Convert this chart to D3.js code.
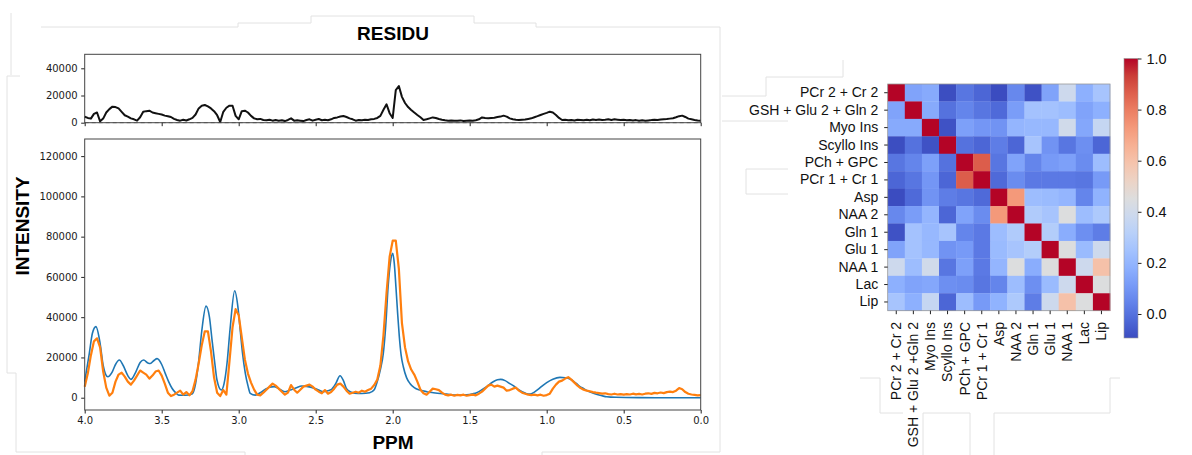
<!DOCTYPE html>
<html>
<head>
<meta charset="utf-8">
<script src="https://cdn.jsdelivr.net/npm/d3@7"></script>
<style>
  body { margin: 0; background: #fff; }
  svg { display: block; }
</style>
</head>
<body>
<script>
// ---- spectrum data (intensity in thousands) ----
const ppmTicks = [4.0, 3.5, 3.0, 2.5, 2.0, 1.5, 1.0, 0.5, 0.0];
const intensityTicks = [0, 20000, 40000, 60000, 80000, 100000, 120000];
const residTicks = [0, 20000, 40000];

// measured spectrum and residual are sampled from 4.00 ppm down to 0.00 ppm every 0.02 ppm
const gridStart = 4.0;
const gridStep = 0.02;

const measured = [
  5.5, 12, 21, 28, 29.5, 25, 13, 5, 1.0, 2.5,
  8, 11.5, 12.5, 10.5, 8, 6.5, 8.5, 11, 13.5, 12.5,
  11.5, 9.5, 11, 13, 13.5, 11, 7, 2.5, 0.8, 1.5,
  2.5, 3.5, 1.5, 2.8, 1.2, 3.2, 9, 17, 26, 33,
  33, 23, 10, 2.5, 0.8, 3.8, 1.5, 18, 35, 44,
  41, 30, 19, 12, 7.5, 4, 1.5, 1.2, 2.5, 4,
  5.5, 7, 6, 4.5, 3, 1.5, 2.5, 6.3, 4, 2.5,
  4, 5.5, 6, 6.5, 5.5, 4, 3, 2.2, 3.8, 2,
  2.8, 4.5, 6.5, 7, 5.5, 3.5, 2, 2.5, 3, 2.5,
  3.5, 3, 3.8, 4.5, 6.3, 9, 16, 31, 52, 70,
  78, 78, 64, 37, 25, 18, 14, 11.5, 8, 4,
  2.2, 1.5, 3, 4.5, 4.2, 3.8, 2.5, 1.5, 1.2, 1.5,
  1.0, 1.4, 1.2, 1.5, 1.0, 1.3, 1.5, 1.2, 2, 3,
  4.5, 6, 6.5, 5.5, 6, 5.5, 5, 3.5, 3.8, 4.5,
  5, 3.5, 2.5, 2, 1.5, 1.3, 1.5, 1.2, 1.5, 1.0,
  1.3, 2, 4.5, 6.5, 8, 8.5, 9.5, 10.2, 9, 7.5,
  6, 4.8, 4, 3.5, 3.2, 2.8, 2.5, 2.3, 2, 2.2,
  1.8, 1.6, 2, 1.6, 1.8, 1.5, 1.8, 1.6, 2, 1.7,
  1.9, 1.6, 2, 2.2, 1.9, 2.4, 2.2, 2.6, 2.3, 2.8,
  3, 2.8, 3.5, 4.8, 4.2, 2.8, 2, 1.6, 1.4, 1.2,
  1.3
];

const residual = [
  4.4, 3.5, 3.0, 6.5, 7.5, 1.0, 3, 7.5, 10, 11.8,
  11.5, 10.5, 8, 5.5, 4.5, 3.2, 2.5, 1.5, 4, 8,
  8.5, 8.8, 7.5, 7, 6.5, 6, 5.2, 4.8, 4.2, 2.8,
  2, 1.5, 2.2, 1.6, 2.5, 3.5, 6, 10.5, 12.5, 13,
  12, 10.5, 8.5, 5.5, 0.5, 8, 11, 12.5, 12.5, 5,
  2.5, 8.5, 8.8, 7.5, 5, 3.2, 2.5, 2.8, 2, 1.8,
  2.2, 1.5, 2, 1.5, 1.8, 1.2, 2, 3.2, 1.5, 1.8,
  1.5, 1.2, 2, 2.5, 1.5, 2.2, 2.7, 1.8, 2.2, 1.8,
  2.5, 3.5, 3.9, 4.5, 4.9, 4.2, 3.2, 2.5, 1.5, 2,
  1.8, 2.2, 2, 2.5, 2.8, 3.5, 5, 9.5, 13.5, 7,
  3.5, 24, 27, 19, 14.5, 11.5, 9.4, 7.5, 5.7, 4,
  2, 2.5, 3.2, 3.9, 3.5, 2.7, 2.2, 1.8, 1.5, 1.6,
  1.4, 1.5, 1.7, 1.3, 1.5, 1.6, 1.4, 1.8, 2.5, 3.9,
  3.5, 3.2, 3.4, 3.6, 4.2, 4.5, 5.2, 4.5, 3.2, 2.5,
  2.2, 2, 2.2, 2.4, 2.8, 3.2, 4, 4.8, 5.7, 6.5,
  7.2, 8.1, 7.5, 5.7, 3.5, 2, 2.2, 1.8, 2, 1.6,
  2.2, 2, 1.8, 2.2, 1.8, 2.3, 2, 2.4, 2, 2.2,
  2.5, 2, 2.5, 2.2, 1.9, 2.1, 1.8, 2, 1.7, 1.9,
  1.5, 1.8, 1.5, 1.7, 1.9, 2.2, 2, 2.4, 2.6, 2.7,
  3, 3.3, 4, 4.8, 5.2, 4.2, 3, 2.5, 2, 1.6,
  1.5
];

// fitted spectrum, [ppm, intensity]
const fitPoints = [
  [4.00, 8], [3.97, 22], [3.95, 32], [3.927, 35.3], [3.90, 27], [3.88, 16], [3.85, 10.4],
  [3.82, 13], [3.80, 16.5], [3.775, 18.7], [3.75, 16], [3.72, 11], [3.70, 9.1], [3.67, 12.5],
  [3.64, 17.5], [3.617, 18.7], [3.59, 17.3], [3.574, 17], [3.55, 18.5], [3.53, 19.4],
  [3.50, 16.5], [3.477, 12.1], [3.455, 8], [3.433, 4.7], [3.41, 2.5], [3.39, 1.3], [3.35, 1.2],
  [3.30, 2], [3.28, 7], [3.26, 18], [3.24, 33], [3.212, 45.5], [3.19, 40], [3.173, 28.6],
  [3.155, 17], [3.141, 8.8], [3.113, 3.8], [3.095, 7], [3.076, 17], [3.055, 35], [3.026, 53.1],
  [3.005, 45], [2.99, 33.6], [2.975, 22], [2.957, 12.1], [2.94, 6], [2.925, 2.2], [2.892, 1.3],
  [2.86, 2.5], [2.83, 4], [2.80, 5.2], [2.77, 5.5], [2.74, 4.5], [2.70, 3], [2.667, 3.8],
  [2.63, 4.8], [2.59, 5.8], [2.55, 5.5], [2.50, 4.5], [2.45, 3], [2.42, 3.5], [2.40, 4],
  [2.37, 7], [2.342, 10.9], [2.32, 8.5], [2.30, 4.5], [2.277, 3], [2.25, 2.3], [2.20, 2.1],
  [2.15, 2.5], [2.12, 4], [2.104, 7.1], [2.08, 14], [2.061, 22], [2.045, 36], [2.03, 55],
  [2.015, 67], [2.00, 71.7], [1.99, 67], [1.979, 55], [1.968, 42], [1.957, 30.3], [1.945, 21],
  [1.931, 15.4], [1.91, 10], [1.888, 7.1], [1.86, 5], [1.823, 3.8], [1.78, 3], [1.736, 2.5],
  [1.65, 1.8], [1.584, 1.3], [1.52, 1.5], [1.48, 2], [1.455, 2.5], [1.42, 4], [1.39, 5.5],
  [1.35, 7.8], [1.32, 8.9], [1.299, 9.1], [1.27, 8.5], [1.24, 7], [1.217, 6], [1.195, 4.6],
  [1.16, 3], [1.13, 2], [1.108, 1.8], [1.08, 2.8], [1.05, 4.5], [1.022, 6.3], [1.00, 7.5],
  [0.96, 9.2], [0.914, 10.1], [0.88, 9.9], [0.849, 9.3], [0.81, 7.2], [0.784, 5.5],
  [0.762, 4.6], [0.73, 3.2], [0.697, 2.2], [0.66, 1.3], [0.632, 0.8], [0.61, 0.5],
  [0.55, 0.2], [0.40, 0.05], [0.20, 0], [0.00, 0]
];

// ---- correlation matrix ----
const rowLabels = ["PCr 2 + Cr 2", "GSH + Glu 2 + Gln 2", "Myo Ins", "Scyllo Ins", "PCh + GPC",
  "PCr 1 + Cr 1", "Asp", "NAA 2", "Gln 1", "Glu 1", "NAA 1", "Lac", "Lip"];
const colLabels = ["PCr 2 + Cr 2", "GSH + Glu 2 +Gln 2", "Myo Ins", "Scyllo Ins", "PCh + GPC",
  "PCr 1 + Cr 1", "Asp", "NAA 2", "Gln 1", "Glu 1", "NAA 1", "Lac", "Lip"];
const corr = [
  [1, 0.14, 0.16, -0.09, 0.01, -0.03, -0.094, 0.06, -0.08, 0.14, 0.39, 0.18, 0.26],
  [0.14, 1, 0.16, 0.00, 0.05, 0.01, -0.02, 0.12, 0.25, 0.25, 0.23, 0.14, 0.18],
  [0.16, 0.16, 1, -0.08, 0.13, 0.10, 0.09, 0.20, 0.21, 0.21, 0.40, 0.15, 0.36],
  [-0.09, 0.00, -0.08, 1, 0.00, -0.03, 0.03, -0.03, 0.26, 0.09, 0.01, 0.08, -0.03],
  [0.01, 0.05, 0.13, 0.00, 1, 0.87, 0.01, 0.14, 0.05, 0.11, 0.13, 0.07, 0.23],
  [-0.03, 0.01, 0.10, -0.03, 0.87, 1, -0.02, 0.07, 0.02, 0.02, 0.02, 0.01, 0.11],
  [-0.094, -0.02, 0.09, 0.03, 0.01, -0.02, 1, 0.73, 0.23, 0.22, 0.20, 0.05, 0.19],
  [0.06, 0.12, 0.20, -0.03, 0.14, 0.07, 0.73, 1, 0.29, 0.26, 0.45, 0.23, 0.28],
  [-0.08, 0.25, 0.21, 0.26, 0.05, 0.02, 0.23, 0.29, 1, 0.30, 0.17, 0.08, 0.03],
  [0.14, 0.25, 0.21, 0.09, 0.11, 0.02, 0.22, 0.26, 0.30, 1, 0.45, 0.22, 0.39],
  [0.39, 0.23, 0.40, 0.01, 0.13, 0.02, 0.20, 0.45, 0.17, 0.45, 1, 0.39, 0.60],
  [0.18, 0.14, 0.15, 0.08, 0.07, 0.01, 0.05, 0.23, 0.08, 0.22, 0.39, 1, 0.45],
  [0.26, 0.18, 0.36, -0.03, 0.23, 0.11, 0.19, 0.28, 0.03, 0.39, 0.60, 0.45, 1]
];
const colorbarTicks = [0.0, 0.2, 0.4, 0.6, 0.8, 1.0];
const corrMin = -0.094, corrMax = 1.0;

// matplotlib "coolwarm" colormap, evenly spaced stops
const coolwarm = ["#3b4cc0", "#4d68d7", "#6282ea", "#779af7", "#8db0fe", "#a3c2fe",
  "#b8d0f9", "#ccd9ee", "#dddddd", "#ecd3c5", "#f5c4ad", "#f7b194", "#f49a7b",
  "#ec7f63", "#de604d", "#cb3e38", "#b40426"];

// faint panel edges left over in the composed picture
const panelEdges = [
  [[11, 13], [11, 75]],
  [[41, 27], [238, 27], [238, 23], [311, 23], [311, 16], [474, 16], [474, 23], [536, 23], [536, 27], [720, 27], [720, 452], [542, 452], [542, 455]],
  [[7, 76], [20, 76]],
  [[7, 76], [7, 373], [16, 373], [16, 452], [245, 452], [245, 455]],
  [[843, 60], [843, 77], [766, 77], [766, 96], [722, 96]],
  [[722, 121], [788, 121]],
  [[788, 169], [746, 169], [746, 194], [788, 194]],
  [[860, 378], [880, 378], [880, 413], [903, 413]],
  [[923, 455], [923, 413], [970, 413], [970, 455]],
  [[994, 455], [994, 413], [1110, 413], [1110, 378], [1120, 378]]
];

// ---- drawing ----
const svg = d3.select("body").append("svg")
  .attr("width", 1192)
  .attr("height", 455);

svg.append("g")
  .selectAll("path")
  .data(panelEdges)
  .enter()
  .append("path")
  .attr("d", (d) => d3.line()(d))
  .attr("fill", "none")
  .attr("stroke", "#e2e2e2")
  .attr("stroke-width", 1);

const gridPpm = (i) => gridStart - i * gridStep;

const x = d3.scaleLinear().domain([4, 0]).range([84.7, 700.7]);
const yRes = d3.scaleLinear().domain([0, 50300]).range([122.7, 54.3]);
const yMain = d3.scaleLinear().domain([-6100, 128500]).range([410, 139]);

function styleTicks(g, family, size) {
  g.select(".domain").remove();
  g.selectAll(".tick line").attr("stroke", "#222");
  g.selectAll(".tick text")
    .attr("fill", "#1a1a1a")
    .style("font-family", family)
    .style("font-size", size + "px");
}

// residual panel
svg.append("line")
  .attr("x1", x(4)).attr("x2", x(0))
  .attr("y1", yRes(0)).attr("y2", yRes(0))
  .attr("stroke", "#888")
  .attr("stroke-dasharray", "4,3");

svg.append("path")
  .datum(residual)
  .attr("fill", "none")
  .attr("stroke", "#111")
  .attr("stroke-width", 2)
  .attr("stroke-linejoin", "round")
  .attr("d", d3.line().x((d, i) => x(gridPpm(i))).y((d) => yRes(d * 1000)));

svg.append("g")
  .attr("transform", `translate(0,${yRes(0)})`)
  .call(d3.axisBottom(x).tickValues(ppmTicks).tickSize(3.5).tickFormat(""))
  .call((g) => styleTicks(g, "DejaVu Sans", 10));

svg.append("g")
  .attr("transform", `translate(${x(4)},0)`)
  .call(d3.axisLeft(yRes).tickValues(residTicks).tickSize(3.5).tickPadding(3.5).tickFormat(d3.format("d")))
  .call((g) => styleTicks(g, "DejaVu Sans", 10));

svg.append("rect")
  .attr("x", x(4)).attr("y", yRes.range()[1])
  .attr("width", x(0) - x(4))
  .attr("height", yRes.range()[0] - yRes.range()[1])
  .attr("fill", "none")
  .attr("stroke", "#444")
  .attr("stroke-width", 1);

svg.append("text")
  .attr("x", 393).attr("y", 39.5)
  .attr("text-anchor", "middle")
  .style("font-family", "Liberation Sans, Arial, sans-serif")
  .style("font-weight", "bold")
  .style("font-size", "19px")
  .text("RESIDU");

// main spectrum panel
svg.append("path")
  .datum(fitPoints)
  .attr("fill", "none")
  .attr("stroke", "#1f77b4")
  .attr("stroke-width", 1.6)
  .attr("d", d3.line().x((d) => x(d[0])).y((d) => yMain(d[1] * 1000)).curve(d3.curveMonotoneX));

svg.append("path")
  .datum(measured)
  .attr("fill", "none")
  .attr("stroke", "#ff7f0e")
  .attr("stroke-width", 2.2)
  .attr("stroke-linejoin", "round")
  .attr("d", d3.line().x((d, i) => x(gridPpm(i))).y((d) => yMain(d * 1000)));

svg.append("g")
  .attr("transform", `translate(0,${yMain.range()[0]})`)
  .call(d3.axisBottom(x).tickValues(ppmTicks).tickSize(3.5).tickPadding(3.5).tickFormat(d3.format(".1f")))
  .call((g) => styleTicks(g, "DejaVu Sans", 10));

svg.append("g")
  .attr("transform", `translate(${x(4)},0)`)
  .call(d3.axisLeft(yMain).tickValues(intensityTicks).tickSize(3.5).tickPadding(3.5).tickFormat(d3.format("d")))
  .call((g) => styleTicks(g, "DejaVu Sans", 10));

svg.append("rect")
  .attr("x", x(4)).attr("y", yMain.range()[1])
  .attr("width", x(0) - x(4))
  .attr("height", yMain.range()[0] - yMain.range()[1])
  .attr("fill", "none")
  .attr("stroke", "#444")
  .attr("stroke-width", 1);

svg.append("text")
  .attr("transform", "translate(29,226) rotate(-90)")
  .attr("text-anchor", "middle")
  .style("font-family", "Liberation Sans, Arial, sans-serif")
  .style("font-weight", "bold")
  .style("font-size", "19px")
  .text("INTENSITY");

svg.append("text")
  .attr("x", 393).attr("y", 449.3)
  .attr("text-anchor", "middle")
  .style("font-family", "Liberation Sans, Arial, sans-serif")
  .style("font-weight", "bold")
  .style("font-size", "19px")
  .text("PPM");

// correlation heatmap
const idx = d3.range(rowLabels.length);
const hx = d3.scaleBand().domain(idx).range([887.7, 1110]);
const hy = d3.scaleBand().domain(idx).range([84, 310.7]);
const color = d3.scaleLinear()
  .domain(coolwarm.map((c, i) => corrMin + (i / (coolwarm.length - 1)) * (corrMax - corrMin)))
  .range(coolwarm)
  .clamp(true);

const cells = [];
corr.forEach((row, i) => row.forEach((v, j) => cells.push({ i, j, v })));

svg.append("g")
  .selectAll("rect")
  .data(cells)
  .enter()
  .append("rect")
  .attr("x", (d) => hx(d.j))
  .attr("y", (d) => hy(d.i))
  .attr("width", hx.bandwidth() + 0.3)
  .attr("height", hy.bandwidth() + 0.3)
  .attr("fill", (d) => color(d.v));

svg.append("rect")
  .attr("x", 887.7).attr("y", 84)
  .attr("width", 1110 - 887.7).attr("height", 310.7 - 84)
  .attr("fill", "none")
  .attr("stroke", "#999")
  .attr("stroke-width", 0.8);

svg.append("g")
  .attr("transform", "translate(887.7,0)")
  .call(d3.axisLeft(hy).tickSize(3.5).tickPadding(6).tickFormat((i) => rowLabels[i]))
  .call((g) => styleTicks(g, "Liberation Sans, Arial, sans-serif", 14))
  .call((g) => g.selectAll(".tick text").attr("fill", "#111"));

svg.append("g")
  .attr("transform", "translate(0,310.7)")
  .call(d3.axisBottom(hx).tickSize(3.5).tickFormat((i) => colLabels[i]))
  .call((g) => styleTicks(g, "Liberation Sans, Arial, sans-serif", 14))
  .call((g) => g.selectAll(".tick text")
    .attr("fill", "#111")
    .attr("y", 0)
    .attr("x", -11.3)
    .attr("dy", "0.35em")
    .attr("transform", "rotate(-90)")
    .style("text-anchor", "end"));

// colorbar
const cb = d3.scaleLinear().domain([corrMin, corrMax]).range([338, 58.5]);
const grad = svg.append("defs").append("linearGradient")
  .attr("id", "cbGrad")
  .attr("x1", 0).attr("y1", 1).attr("x2", 0).attr("y2", 0);
grad.selectAll("stop")
  .data(coolwarm)
  .enter()
  .append("stop")
  .attr("offset", (d, i) => i / (coolwarm.length - 1))
  .attr("stop-color", (d) => d);

svg.append("rect")
  .attr("x", 1124).attr("y", cb(corrMax))
  .attr("width", 14)
  .attr("height", cb(corrMin) - cb(corrMax))
  .attr("fill", "url(#cbGrad)")
  .attr("stroke", "#999")
  .attr("stroke-width", 0.6);

svg.append("g")
  .attr("transform", "translate(1138,0)")
  .call(d3.axisRight(cb).tickValues(colorbarTicks).tickSize(3.5).tickPadding(5).tickFormat(d3.format(".1f")))
  .call((g) => styleTicks(g, "Liberation Sans, Arial, sans-serif", 14.5))
  .call((g) => g.selectAll(".tick text").attr("fill", "#111"));
</script>
</body>
</html>
